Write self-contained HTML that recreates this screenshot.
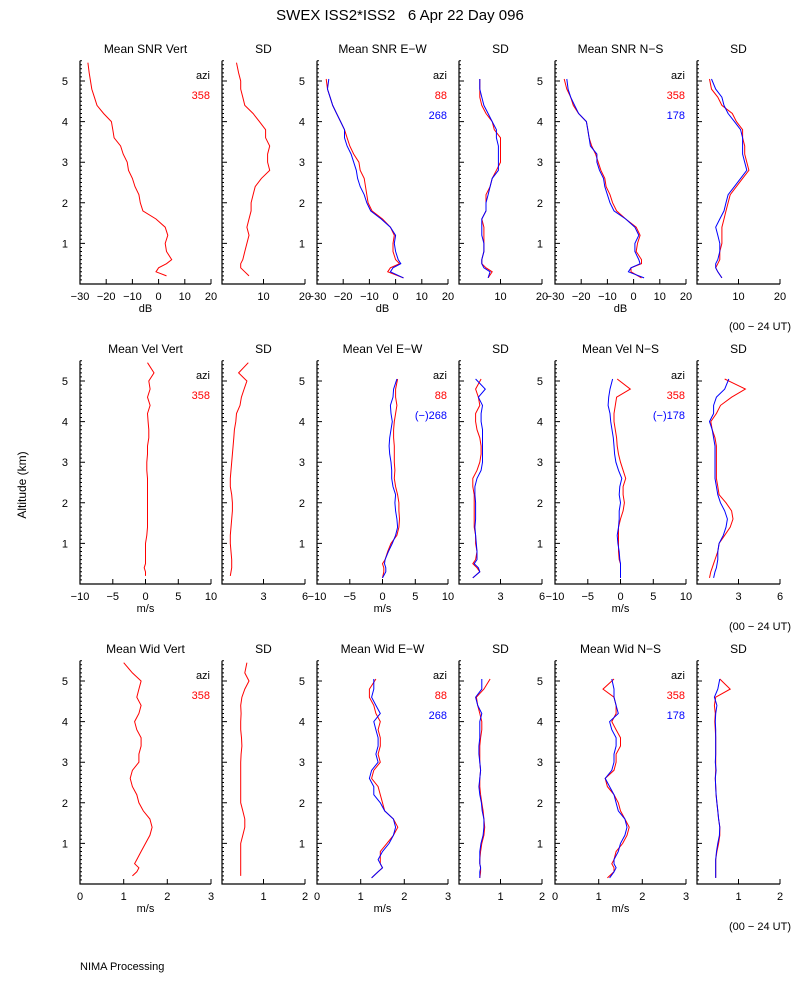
<!DOCTYPE html>
<html><head><meta charset="utf-8"><style>
html,body{margin:0;padding:0;background:#fff;}
svg{display:block;font-family:"Liberation Sans",sans-serif;}
</style></head><body>
<svg id="chart" width="800" height="1000" viewBox="0 0 800 1000" xmlns="http://www.w3.org/2000/svg">
<text x="400" y="20" text-anchor="middle" font-size="15">SWEX ISS2*ISS2&#160;&#160;&#160;6 Apr 22 Day 096</text>
<text x="26" y="485" text-anchor="middle" font-size="12" transform="rotate(-90 26 485)">Altitude (km)</text>
<text x="80" y="970" font-size="11">NIMA Processing</text>
<g id="plots"></g>
</svg>
<script>
// altitude grids (km)
const altV = [0.2,0.3,0.4,0.5,0.6,0.8,1.0,1.2,1.4,1.6,1.8,2.0,2.2,2.4,2.6,2.8,3.0,3.2,3.4,3.6,3.8,4.0,4.2,4.4,4.6,4.8,5.0,5.2,5.45];
const altO = [0.15,0.3,0.4,0.5,0.6,0.8,1.0,1.2,1.4,1.6,1.8,2.0,2.2,2.4,2.6,2.8,3.0,3.2,3.4,3.6,3.8,4.0,4.2,4.4,4.6,4.8,5.05];
const altTicks = ["1","2","3","4","5"];
// tick labels
const snrTicks = [-30,-20,-10,0,10,20];
const snrSdTicks = [10,20];
const velTicks = [-10,-5,0,5,10];
const velSdTicks = [3,6];
const widTicks = [0,1,2,3];
const widSdTicks = [1,2];
// Row 1: SNR (dB)
const snrVert = [3,-1,0,3,5,3,2.5,3.5,2.5,-1,-6,-7,-7.5,-9,-10,-11.5,-12,-13.5,-14.5,-17,-17.5,-18,-21,-23.5,-24.5,-25.5,-26,-26.5,-27];
const snrVertSd = [6.5,5.5,4.5,4.5,5,5.5,6,6.5,6,6.5,7,7,7.5,8,9.5,11.5,11,11,11.5,10.5,10.5,9,7.5,5.5,5,4.5,4.5,4,3.5];
const snrEw88 = [3,-3,-2,1.5,0,-1,-1,-0.5,-2,-5,-9,-10.5,-11,-11.5,-12,-13.5,-14,-16,-17.5,-18.5,-19.5,-21,-22.5,-24,-25,-26,-26.5];
const snrEw268 = [3,-2,-1,2,1,0,-0.5,0,-2,-5.5,-9.5,-11,-12,-13.5,-14.5,-15,-16,-17,-18.5,-19.5,-19.5,-21,-22.5,-24,-25,-26,-25.5];
const snrEwSd88 = [7,8,6.5,5.5,5.5,6,6,6,6,5.5,6.5,6.5,6.5,7.5,8,9,10,10,10,10,8.5,8,6.5,5.5,5,5,5];
const snrEwSd268 = [7,7.5,6,5.5,5.5,6,6,5.5,5.5,5.5,6.5,6.5,7,7.5,8,9.5,9.5,9.5,9.5,9,9,8,7,6,5.5,5,5];
const snrNs358 = [3,-1,-1,3,3,1,1.5,2.5,1,-3,-6.5,-8,-9,-10.5,-11,-12.5,-13.5,-14.5,-16,-17,-17.5,-18,-21,-23,-24,-25.5,-26.5];
const snrNs178 = [4,-2,-1,2.5,2,0.5,0.5,2,0.5,-3,-7.5,-9,-10,-11,-11.5,-13,-14,-14,-16.5,-17,-17.5,-18,-21,-22.5,-24,-25,-25.5];
const snrNsSd358 = [6,5,4.5,5,5.5,5.5,6,6,6,6.5,7,7.5,8,9.5,11,12.5,12,11.5,11.5,11,11,9.5,8.5,6,5,3.5,3];
const snrNsSd178 = [6,5,4.5,4.5,5,5.5,5.5,5,4.5,5.5,6.5,7,7.5,9,10.5,12,11.5,11,11,11,10.5,9,7.5,6.5,6,4.5,3.5];
// Row 2: velocity (m/s)
const velVert = [0,0,-0.2,0,0,0,0,0.2,0.3,0.3,0.3,0.3,0.3,0.3,0.3,0.2,0.2,0.3,0.3,0.5,0.5,0.4,0.3,0.7,0.3,0.7,0.5,1.3,0.3];
const velVertSd = [0.6,0.65,0.7,0.7,0.7,0.65,0.6,0.6,0.65,0.7,0.75,0.75,0.7,0.6,0.6,0.65,0.7,0.75,0.8,0.85,0.9,1.0,1.05,1.3,1.4,1.6,1.8,1.2,1.9];
const velEw88 = [0,0.2,0.2,0,0.4,0.8,1.3,2.2,2.5,2.6,2.5,2.5,2.3,2.0,1.8,1.9,1.8,1.8,1.8,1.7,1.7,1.8,2.0,2.2,2.0,2.0,2.3];
const velEw268 = [0,0.5,0.5,0.3,0.4,0.9,1.5,2.0,2.3,2.2,2.0,1.9,2.0,1.6,1.4,1.4,1.3,1.1,1.0,1.1,1.3,1.5,1.3,1.2,1.6,1.7,2.2];
const velEwSd88 = [1.0,1.5,1.3,1.0,1.2,1.3,1.2,1.2,1.1,1.1,1.1,1.1,1.1,1.0,1.0,1.3,1.5,1.6,1.6,1.5,1.3,1.2,1.2,1.5,1.4,1.2,1.6];
const velEwSd268 = [1.0,1.5,1.4,1.1,1.3,1.3,1.25,1.2,1.15,1.2,1.2,1.2,1.15,1.15,1.3,1.6,1.7,1.7,1.7,1.7,1.7,1.6,1.6,1.7,1.4,1.9,1.2];
const velNs358 = [0,0,0,0,-0.2,-0.3,-0.3,-0.3,-0.3,0,0.4,0.6,0.4,0.4,0.8,0.4,0,-0.3,-0.5,-0.6,-0.8,-1.0,-1.0,-0.8,-0.6,1.5,-0.5];
const velNs178 = [0,0,0,0,-0.1,-0.2,-0.4,-0.5,-0.3,-0.2,-0.2,0,-0.2,-0.1,0.2,-0.3,-0.7,-0.9,-1.0,-1.1,-1.3,-1.5,-1.6,-1.9,-1.8,-1.6,-1.2];
const velNsSd358 = [0.9,1.0,1.1,1.2,1.3,1.5,1.6,2.0,2.4,2.6,2.5,2.1,1.6,1.5,1.4,1.4,1.4,1.4,1.4,1.3,1.1,1.0,1.4,1.7,2.5,3.5,2.0];
const velNsSd178 = [1.2,1.3,1.4,1.45,1.5,1.5,1.6,1.9,2.1,2.2,2.0,1.7,1.5,1.4,1.3,1.3,1.3,1.3,1.3,1.2,1.1,0.9,1.2,1.2,1.4,2.0,2.3];
// Row 3: spectral width (m/s)
const widVert = [1.2,1.3,1.35,1.25,1.3,1.4,1.5,1.6,1.65,1.6,1.45,1.35,1.3,1.2,1.15,1.2,1.35,1.35,1.4,1.4,1.3,1.25,1.35,1.4,1.3,1.35,1.4,1.2,1.0];
const widVertSd = [0.45,0.45,0.45,0.45,0.45,0.45,0.45,0.5,0.55,0.55,0.5,0.45,0.45,0.45,0.45,0.45,0.45,0.46,0.48,0.47,0.45,0.45,0.46,0.45,0.48,0.55,0.65,0.55,0.6];
const widEw88 = [1.25,1.4,1.5,1.45,1.45,1.45,1.6,1.75,1.85,1.75,1.55,1.5,1.45,1.4,1.25,1.3,1.45,1.4,1.45,1.45,1.4,1.45,1.35,1.3,1.2,1.2,1.35];
const widEw268 = [1.25,1.4,1.5,1.45,1.4,1.5,1.65,1.75,1.8,1.75,1.55,1.45,1.3,1.3,1.2,1.25,1.4,1.35,1.4,1.4,1.35,1.3,1.45,1.35,1.25,1.3,1.3];
const widEwSd88 = [0.5,0.52,0.52,0.5,0.5,0.52,0.55,0.6,0.62,0.6,0.58,0.55,0.52,0.5,0.5,0.52,0.5,0.5,0.5,0.52,0.55,0.55,0.5,0.45,0.42,0.6,0.75];
const widEwSd268 = [0.5,0.5,0.52,0.5,0.5,0.5,0.53,0.58,0.6,0.6,0.56,0.54,0.5,0.48,0.5,0.52,0.5,0.48,0.48,0.5,0.5,0.5,0.55,0.45,0.4,0.55,0.55];
const widNs358 = [1.2,1.35,1.35,1.3,1.35,1.4,1.55,1.65,1.7,1.6,1.5,1.45,1.35,1.2,1.15,1.35,1.4,1.4,1.5,1.5,1.4,1.3,1.4,1.4,1.35,1.1,1.35];
const widNs178 = [1.25,1.35,1.4,1.35,1.35,1.45,1.5,1.6,1.65,1.6,1.45,1.4,1.35,1.25,1.15,1.3,1.35,1.35,1.4,1.4,1.3,1.25,1.45,1.4,1.35,1.35,1.3];
const widNsSd358 = [0.45,0.45,0.45,0.45,0.45,0.48,0.52,0.55,0.55,0.52,0.5,0.48,0.46,0.45,0.44,0.45,0.45,0.45,0.45,0.45,0.44,0.43,0.44,0.42,0.45,0.8,0.55];
const widNsSd178 = [0.45,0.45,0.45,0.45,0.45,0.47,0.5,0.54,0.55,0.52,0.5,0.48,0.46,0.45,0.44,0.46,0.44,0.45,0.45,0.45,0.45,0.44,0.45,0.48,0.42,0.5,0.55];

const NS = "http://www.w3.org/2000/svg";
const root = document.getElementById('plots');
function mk(tag, attrs, parent){
  const e = document.createElementNS(NS, tag);
  for (const k in attrs) e.setAttribute(k, attrs[k]);
  (parent||root).appendChild(e);
  return e;
}
const panelX = [[80,211],[222,305],[317,448],[459,542],[555,686],[697,780]];
const rowBase = [284, 584, 884];
const KM = 40.6;

function panel(row, col, title, xmin, xmax, ticks, unit, series, legend){
  const [x0,x1] = panelX[col];
  const yb = rowBase[row];
  const g = mk('g', {});
  
  
  const sx = v => x0 + (v - xmin)/(xmax - xmin)*(x1 - x0);
  const sy = a => yb - a*KM;
  const t = mk('text', {x:(x0+x1)/2, y:yb-231, 'text-anchor':'middle', 'font-size':12}, g);
  t.textContent = title;
  
  
  const ax = mk('path', {d:`M${x0} ${yb-5.5*KM}V${yb}H${x1}`, stroke:'#000', fill:'none', 'stroke-width':1.2}, g);
  
  
  let d = '';
  for (let i=1;i<=55;i++){ const y = sy(i/10); d += `M${x0} ${y.toFixed(1)}h${i%10===0?5:2}`; }
  ticks.forEach(v => { d += `M${sx(v).toFixed(1)} ${yb}v-5`; });
  mk('path', {d:d, stroke:'#000', 'stroke-width':1, fill:'none'}, g);
  if (col % 2 === 0){
    altTicks.forEach((s,i) => {
      const tt = mk('text', {x:x0-12, y:sy(i+1)+4, 'text-anchor':'end', 'font-size':11}, g);
      tt.textContent = s;
      
      
    });
  }
  ticks.forEach(v => {
    const tl = mk('text', {x:sx(v), y:yb+16, 'text-anchor':'middle', 'font-size':11}, g);
    tl.textContent = (v<0?'\u2212'+(-v):v);
    
    
  });
  if (unit){
    const u = mk('text', {x:(x0+x1)/2, y:yb+28, 'text-anchor':'middle', 'font-size':11}, g);
    u.textContent = unit;
    
    
  }
  series.forEach(s => {
    const pts = s.v.map((v,i) => sx(v).toFixed(1)+','+sy(s.a[i]).toFixed(1)).join(' ');
    const pl = mk('polyline', {points:pts, fill:'none', stroke:s.c, 'stroke-width':1}, g);
    
    
  });
  if (legend){
    legend.forEach((l,i) => {
      const lt = mk('text', {x:x1-1, y:yb-205+i*20, 'text-anchor':'end', 'font-size':11, fill:l.c}, g);
      lt.textContent = l.t;
      
      
    });
  }
}
const R='#ff0000', B='#0000ff', K='#000';
panel(0,0,'Mean SNR Vert',-30,20,snrTicks,'dB',[{a:altV,v:snrVert,c:R,n:'snr-vert-line'}],[{t:'azi',c:K},{t:'358',c:R}]);
panel(0,1,'SD',0,20,snrSdTicks,'',[{a:altV,v:snrVertSd,c:R,n:'snr-vert-sd-line'}]);
panel(0,2,'Mean SNR E\u2212W',-30,20,snrTicks,'dB',[{a:altO,v:snrEw88,c:R,n:'snr-ew-88-line'},{a:altO,v:snrEw268,c:B,n:'snr-ew-268-line'}],[{t:'azi',c:K},{t:'88',c:R},{t:'268',c:B}]);
panel(0,3,'SD',0,20,snrSdTicks,'',[{a:altO,v:snrEwSd88,c:R,n:'snr-ew-sd-88-line'},{a:altO,v:snrEwSd268,c:B,n:'snr-ew-sd-268-line'}]);
panel(0,4,'Mean SNR N\u2212S',-30,20,snrTicks,'dB',[{a:altO,v:snrNs358,c:R,n:'snr-ns-358-line'},{a:altO,v:snrNs178,c:B,n:'snr-ns-178-line'}],[{t:'azi',c:K},{t:'358',c:R},{t:'178',c:B}]);
panel(0,5,'SD',0,20,snrSdTicks,'',[{a:altO,v:snrNsSd358,c:R,n:'snr-ns-sd-358-line'},{a:altO,v:snrNsSd178,c:B,n:'snr-ns-sd-178-line'}]);
panel(1,0,'Mean Vel Vert',-10,10,velTicks,'m/s',[{a:altV,v:velVert,c:R,n:'vel-vert-line'}],[{t:'azi',c:K},{t:'358',c:R}]);
panel(1,1,'SD',0,6,velSdTicks,'',[{a:altV,v:velVertSd,c:R,n:'vel-vert-sd-line'}]);
panel(1,2,'Mean Vel E\u2212W',-10,10,velTicks,'m/s',[{a:altO,v:velEw88,c:R,n:'vel-ew-88-line'},{a:altO,v:velEw268,c:B,n:'vel-ew-268-line'}],[{t:'azi',c:K},{t:'88',c:R},{t:'(\u2212)268',c:B}]);
panel(1,3,'SD',0,6,velSdTicks,'',[{a:altO,v:velEwSd88,c:R,n:'vel-ew-sd-88-line'},{a:altO,v:velEwSd268,c:B,n:'vel-ew-sd-268-line'}]);
panel(1,4,'Mean Vel N\u2212S',-10,10,velTicks,'m/s',[{a:altO,v:velNs358,c:R,n:'vel-ns-358-line'},{a:altO,v:velNs178,c:B,n:'vel-ns-178-line'}],[{t:'azi',c:K},{t:'358',c:R},{t:'(\u2212)178',c:B}]);
panel(1,5,'SD',0,6,velSdTicks,'',[{a:altO,v:velNsSd358,c:R,n:'vel-ns-sd-358-line'},{a:altO,v:velNsSd178,c:B,n:'vel-ns-sd-178-line'}]);
panel(2,0,'Mean Wid Vert',0,3,widTicks,'m/s',[{a:altV,v:widVert,c:R,n:'wid-vert-line'}],[{t:'azi',c:K},{t:'358',c:R}]);
panel(2,1,'SD',0,2,widSdTicks,'',[{a:altV,v:widVertSd,c:R,n:'wid-vert-sd-line'}]);
panel(2,2,'Mean Wid E\u2212W',0,3,widTicks,'m/s',[{a:altO,v:widEw88,c:R,n:'wid-ew-88-line'},{a:altO,v:widEw268,c:B,n:'wid-ew-268-line'}],[{t:'azi',c:K},{t:'88',c:R},{t:'268',c:B}]);
panel(2,3,'SD',0,2,widSdTicks,'',[{a:altO,v:widEwSd88,c:R,n:'wid-ew-sd-88-line'},{a:altO,v:widEwSd268,c:B,n:'wid-ew-sd-268-line'}]);
panel(2,4,'Mean Wid N\u2212S',0,3,widTicks,'m/s',[{a:altO,v:widNs358,c:R,n:'wid-ns-358-line'},{a:altO,v:widNs178,c:B,n:'wid-ns-178-line'}],[{t:'azi',c:K},{t:'358',c:R},{t:'178',c:B}]);
panel(2,5,'SD',0,2,widSdTicks,'',[{a:altO,v:widNsSd358,c:R,n:'wid-ns-sd-358-line'},{a:altO,v:widNsSd178,c:B,n:'wid-ns-sd-178-line'}]);
rowBase.forEach(yb => {
  const n = mk('text', {x:791, y:yb+46, 'text-anchor':'end', 'font-size':11});
  n.textContent = '(00 \u2212 24 UT)';
  
  
});
</script>
</body></html>
